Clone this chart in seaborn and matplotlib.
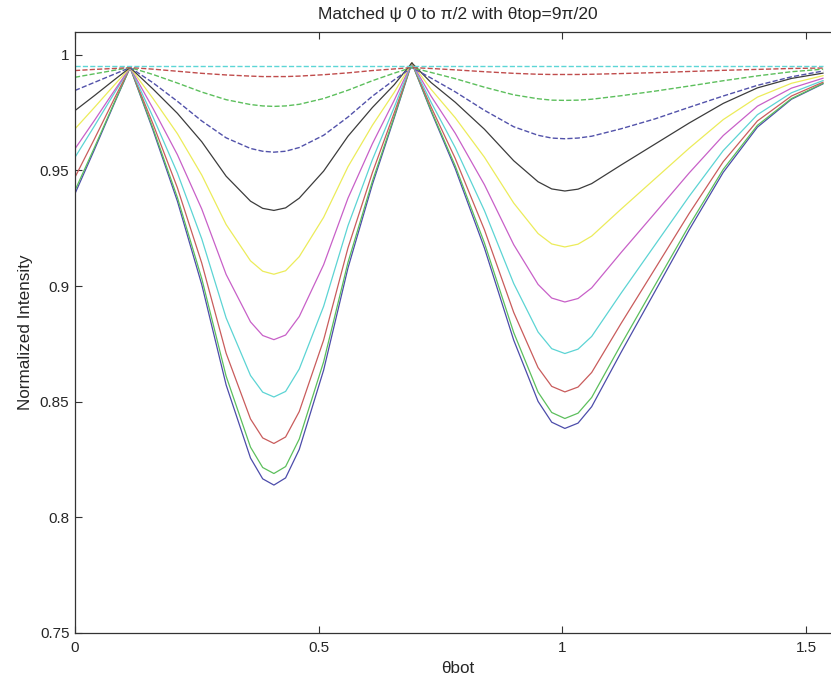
"""Normalized intensity vs theta_bot for matched psi, MATLAB-like line family."""

import matplotlib
matplotlib.use("Agg")
import matplotlib.pyplot as plt
import numpy as np
import pandas as pd
import seaborn as sns

# x samples (theta_bot, radians)
theta_bot = [0.000, 0.040, 0.080, 0.113, 0.160, 0.210, 0.260, 0.310, 0.360, 0.385,
             0.408, 0.432, 0.460, 0.510, 0.560, 0.610, 0.655, 0.691, 0.730, 0.780,
             0.840, 0.900, 0.950, 0.978, 1.005, 1.032, 1.060, 1.120, 1.190, 1.260,
             1.330, 1.400, 1.470, 1.535]

# solid curves (deepest first)
blue_solid = [0.9400, 0.9591, 0.9787, 0.9945, 0.9674, 0.9367, 0.9006, 0.8572, 0.8256, 0.8166,
              0.8139, 0.8170, 0.8293, 0.8636, 0.9078, 0.9439, 0.9728, 0.9965, 0.9758, 0.9508,
              0.9164, 0.8766, 0.8501, 0.8411, 0.8384, 0.8407, 0.8478, 0.8712, 0.8977, 0.9243,
              0.9492, 0.9687, 0.9808, 0.9875]
green_solid = [0.9414, 0.9600, 0.9791, 0.9945, 0.9682, 0.9383, 0.9032, 0.8610, 0.8303, 0.8215,
               0.8189, 0.8219, 0.8338, 0.8672, 0.9102, 0.9453, 0.9734, 0.9965, 0.9763, 0.9520,
               0.9186, 0.8799, 0.8541, 0.8453, 0.8427, 0.8450, 0.8518, 0.8746, 0.9004, 0.9262,
               0.9505, 0.9695, 0.9811, 0.9877]
red_solid = [0.9471, 0.9637, 0.9808, 0.9945, 0.9701, 0.9425, 0.9099, 0.8709, 0.8425, 0.8343,
             0.8319, 0.8347, 0.8457, 0.8766, 0.9165, 0.9490, 0.9750, 0.9965, 0.9777, 0.9552,
             0.9243, 0.8886, 0.8647, 0.8566, 0.8542, 0.8563, 0.8626, 0.8837, 0.9075, 0.9314,
             0.9538, 0.9714, 0.9822, 0.9882]
cyan_solid = [0.9557, 0.9693, 0.9832, 0.9945, 0.9731, 0.9489, 0.9204, 0.8862, 0.8613, 0.8541,
              0.8520, 0.8544, 0.8641, 0.8912, 0.9261, 0.9546, 0.9774, 0.9965, 0.9797, 0.9599,
              0.9326, 0.9011, 0.8801, 0.8729, 0.8708, 0.8727, 0.8782, 0.8968, 0.9178, 0.9388,
              0.9586, 0.9741, 0.9836, 0.9889]
magenta_solid = [0.9594, 0.9717, 0.9843, 0.9945, 0.9768, 0.9568, 0.9333, 0.9050, 0.8845, 0.8786,
                 0.8768, 0.8788, 0.8868, 0.9092, 0.9380, 0.9615, 0.9804, 0.9965, 0.9823, 0.9661,
                 0.9438, 0.9179, 0.9007, 0.8948, 0.8931, 0.8946, 0.8992, 0.9144, 0.9316, 0.9489,
                 0.9651, 0.9778, 0.9856, 0.9899]
yellow_solid = [0.9680, 0.9773, 0.9868, 0.9945, 0.9811, 0.9659, 0.9480, 0.9266, 0.9109, 0.9064,
                0.9051, 0.9066, 0.9127, 0.9297, 0.9516, 0.9695, 0.9838, 0.9965, 0.9852, 0.9728,
                0.9557, 0.9359, 0.9227, 0.9182, 0.9169, 0.9181, 0.9216, 0.9332, 0.9464, 0.9596,
                0.9720, 0.9817, 0.9877, 0.9910]
black_solid = [0.9759, 0.9824, 0.9891, 0.9945, 0.9852, 0.9747, 0.9624, 0.9475, 0.9367, 0.9336,
               0.9327, 0.9338, 0.9380, 0.9497, 0.9648, 0.9772, 0.9871, 0.9965, 0.9881, 0.9795,
               0.9678, 0.9542, 0.9451, 0.9420, 0.9411, 0.9419, 0.9443, 0.9523, 0.9614, 0.9705,
               0.9790, 0.9857, 0.9898, 0.9921]
# dashed curves (shallow, broad dips)
blue_dashed = [0.9846, 0.9881, 0.9916, 0.9945, 0.9879, 0.9799, 0.9714, 0.9641, 0.9595, 0.9583,
               0.9579, 0.9583, 0.9599, 0.9652, 0.9731, 0.9821, 0.9892, 0.9945, 0.9900, 0.9840,
               0.9760, 0.9689, 0.9652, 0.9640, 0.9637, 0.9640, 0.9648, 0.9680, 0.9723, 0.9773,
               0.9822, 0.9868, 0.9905, 0.9930]
green_dashed = [0.9903, 0.9918, 0.9933, 0.9945, 0.9915, 0.9878, 0.9839, 0.9806, 0.9785, 0.9779,
                0.9777, 0.9779, 0.9786, 0.9811, 0.9847, 0.9888, 0.9921, 0.9945, 0.9924, 0.9897,
                0.9860, 0.9827, 0.9810, 0.9804, 0.9803, 0.9804, 0.9808, 0.9823, 0.9843, 0.9865,
                0.9888, 0.9909, 0.9927, 0.9938]
red_dashed = [0.9932, 0.9937, 0.9941, 0.9945, 0.9938, 0.9929, 0.9920, 0.9913, 0.9908, 0.9906,
              0.9906, 0.9906, 0.9908, 0.9914, 0.9922, 0.9932, 0.9939, 0.9945, 0.9941, 0.9935,
              0.9927, 0.9920, 0.9916, 0.9915, 0.9915, 0.9915, 0.9916, 0.9919, 0.9923, 0.9928,
              0.9933, 0.9937, 0.9941, 0.9943]
cyan_dashed = [0.995, 0.995, 0.995, 0.995, 0.995, 0.995, 0.995, 0.995, 0.995, 0.995,
               0.995, 0.995, 0.995, 0.995, 0.995, 0.995, 0.995, 0.995, 0.995, 0.995,
               0.995, 0.995, 0.995, 0.995, 0.995, 0.995, 0.995, 0.995, 0.995, 0.995,
               0.995, 0.995, 0.995, 0.995]

series = [
    ("b", blue_solid, "#4c4caa", "-"),
    ("g", green_solid, "#5cbf5c", "-"),
    ("r", red_solid, "#c95c5c", "-"),
    ("c", cyan_solid, "#5cd4d4", "-"),
    ("m", magenta_solid, "#c860c8", "-"),
    ("y", yellow_solid, "#ecec5a", "-"),
    ("k", black_solid, "#3c3c3c", "-"),
    ("b--", blue_dashed, "#5252aa", "--"),
    ("g--", green_dashed, "#5cbf5c", "--"),
    ("r--", red_dashed, "#c04c4c", "--"),
    ("c--", cyan_dashed, "#5cd6d6", "--"),
]

rows = []
for name, vals, _, _ in series:
    for x, y in zip(theta_bot, vals):
        rows.append({"theta_bot": x, "intensity": y, "curve": name})
dfrm = pd.DataFrame(rows)

sns.set_theme(style="white")
plt.rcParams["font.family"] = ["Liberation Sans", "DejaVu Sans"]
plt.rcParams["xtick.direction"] = "in"
plt.rcParams["ytick.direction"] = "in"

fig = plt.figure(figsize=(8.31, 6.85), dpi=100)
# axes box runs off the right edge like the cropped original
ax = fig.add_axes([0.0903, 0.0762, 0.9213, 0.8775])

for name, _, color, lsty in series:
    sub = dfrm[dfrm["curve"] == name]
    kws = {"dashes": (7, 4), "linewidth": 1.0} if lsty == "--" else {"linewidth": 0.9}
    sns.lineplot(data=sub, x="theta_bot", y="intensity", ax=ax, color=color,
                 linestyle=lsty, sort=False, **kws)

ax.set_xlim(0, np.pi / 2)
ax.set_ylim(0.75, 1.01)
ax.set_xticks([0, 0.5, 1, 1.5])
ax.set_xticklabels(["0", "0.5", "1", "1.5"])
ax.set_yticks([0.75, 0.8, 0.85, 0.9, 0.95, 1])
ax.set_yticklabels(["0.75", "0.8", "0.85", "0.9", "0.95", "1"])
ax.tick_params(axis="both", which="both", length=5, width=0.8, color="#333333",
               labelsize=11, top=True, right=True, bottom=True, left=True, pad=4)
ax.tick_params(axis="x", pad=6)
for sp in ax.spines.values():
    sp.set_color("#333333")
    sp.set_linewidth(0.9)

ax.set_title("Matched \u03c8 0 to \u03c0/2 with \u03b8top=9\u03c0/20", fontsize=12.5, pad=9)
ax.set_xlabel("\u03b8bot", fontsize=12.3, labelpad=4)
ax.set_ylabel("Normalized Intensity", fontsize=12.3, labelpad=5)

fig.savefig("out.png", dpi=100)
